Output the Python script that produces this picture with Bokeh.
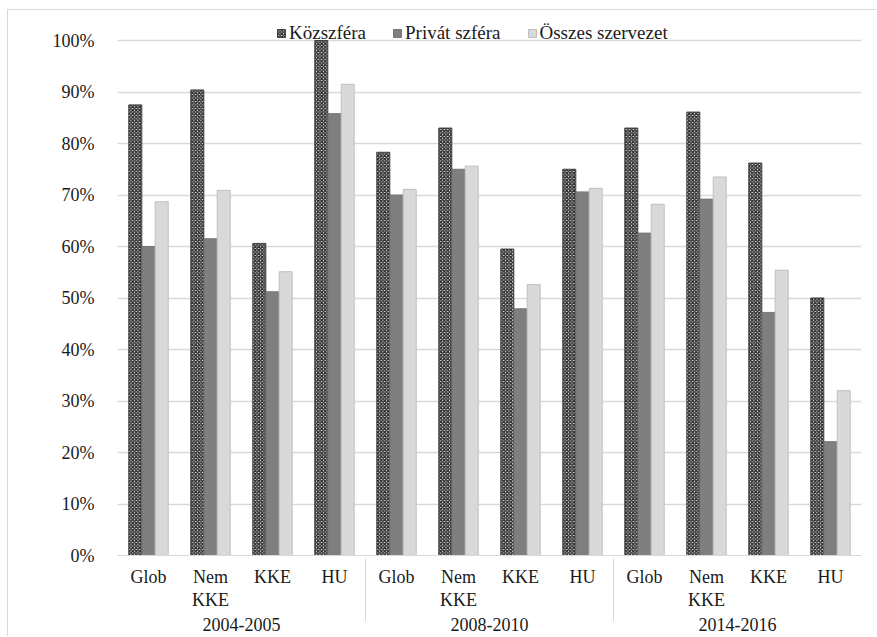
from bokeh.plotting import figure
from bokeh.models import (FactorRange, ColumnDataSource, Legend, LegendItem, FixedTicker,
                          PrintfTickFormatter, Range1d, BoxAnnotation)
from bokeh.transform import dodge
from bokeh.embed import file_html
from bokeh.resources import INLINE

# ---------------- data ----------------
periods = ["2004-2005", "2008-2010", "2014-2016"]
regions = ["Glob", "Nem\nKKE", "KKE", "HU"]
series_names = ["Közszféra", "Privát szféra", "Összes szervezet"]
kozszfera = [87.5, 90.4, 60.6, 100.0, 78.3, 83.0, 59.5, 75.0, 83.0, 86.1, 76.2, 50.0]
privat = [60.0, 61.5, 51.2, 85.8, 70.0, 75.0, 47.9, 70.6, 62.6, 69.2, 47.2, 22.1]
osszes = [68.7, 70.9, 55.1, 91.5, 71.1, 75.6, 52.6, 71.3, 68.2, 73.5, 55.4, 32.0]
y_ticks = [0, 10, 20, 30, 40, 50, 60, 70, 80, 90, 100]

factors = [(per, reg) for per in periods for reg in regions]
source = ColumnDataSource(dict(x=factors, koz=kozszfera, priv=privat, ossz=osszes))

FONT = "Liberation Serif"
FS = "18px"
TXT = "#1a1a1a"
GRID = "#d9d9d9"

W, H = 869, 627
p = figure(width=W, height=H, output_backend="svg", toolbar_location=None,
           x_range=FactorRange(*factors, group_padding=0, range_padding=0, factor_padding=0),
           y_range=Range1d(0, 540 / 5.15),
           min_border_left=109, min_border_right=16, min_border_top=5, min_border_bottom=82)
p.styles = {"margin-left": "7px", "margin-top": "9px",
            "border-left": f"1px solid {GRID}", "border-top": f"1px solid {GRID}"}
p.outline_line_color = None
p.background_fill_color = "white"
p.border_fill_color = "white"

bw = 0.21
off = 0.213
r1 = p.vbar(x=dodge("x", -off, range=p.x_range), top="koz", width=bw, source=source,
            fill_color="white", line_color="#404040", line_width=1,
            hatch_pattern="diagonal_cross", hatch_scale=3.5, hatch_weight=1.6,
            hatch_color="#333333")
r2 = p.vbar(x=dodge("x", 0, range=p.x_range), top="priv", width=bw, source=source,
            fill_color="#7f7f7f", line_color="#767676", line_width=1)
r3 = p.vbar(x=dodge("x", off, range=p.x_range), top="ossz", width=bw, source=source,
            fill_color="#d9d9d9", line_color="#bfbfbf", line_width=1)

# category-axis frame (left/right verticals below the axis)
p.add_layout(BoxAnnotation(top=0, bottom=-200, bottom_units="screen",
                           fill_color=None, fill_alpha=0, line_color=GRID, line_width=1,
                           level="underlay"))

# y axis
p.yaxis.ticker = FixedTicker(ticks=y_ticks)
p.yaxis.formatter = PrintfTickFormatter(format="%d%%")
p.yaxis.axis_line_color = None
p.yaxis.major_tick_line_color = None
p.yaxis.minor_tick_line_color = None
p.yaxis.major_label_standoff = 17
p.yaxis.major_label_text_font = FONT
p.yaxis.major_label_text_font_size = FS
p.yaxis.major_label_text_color = TXT

p.ygrid.ticker = FixedTicker(ticks=y_ticks)
p.ygrid.grid_line_color = GRID
p.ygrid.grid_line_width = 1.5
p.xgrid.grid_line_color = None

# x axis
xa = p.xaxis[0]
xa.axis_line_color = GRID
xa.axis_line_width = 1
xa.major_tick_line_color = None
xa.minor_tick_line_color = None
xa.major_label_standoff = 5
xa.major_label_text_font = FONT
xa.major_label_text_font_size = FS
xa.major_label_text_line_height = 1.15
xa.major_label_text_color = TXT
xa.major_label_orientation = "horizontal"
xa.group_text_font = FONT
xa.group_text_font_size = FS
xa.group_text_font_style = "normal"
xa.group_text_color = TXT
xa.group_text_line_height = 1.0
xa.group_label_orientation = "horizontal"
xa.separator_line_color = GRID
xa.separator_line_width = 1

legend = Legend(items=[LegendItem(label=series_names[0], renderers=[r1]),
                       LegendItem(label=series_names[1], renderers=[r2]),
                       LegendItem(label=series_names[2], renderers=[r3])],
                orientation="horizontal", location=(159, 511),
                border_line_color=None, background_fill_alpha=0,
                padding=0, margin=0, spacing=26, label_standoff=3,
                glyph_width=10, glyph_height=10, label_height=20,
                label_text_font=FONT, label_text_font_size="19px",
                label_text_color=TXT)
p.add_layout(legend, "center")

open("out.html", "w").write(file_html(p, INLINE))
